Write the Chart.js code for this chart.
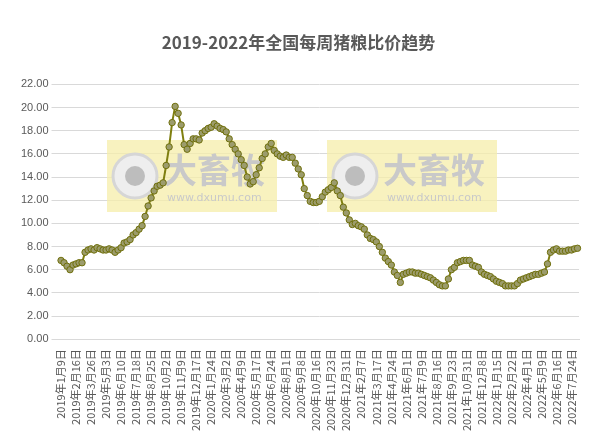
<!DOCTYPE html>
<html><head><meta charset="utf-8">
<script src="https://cdn.jsdelivr.net/npm/chart.js@4"></script>
<style>html,body{margin:0;padding:0;background:#fff}#w{width:601px;height:435px}</style>
</head><body><div id="w"><canvas id="c"></canvas></div>
<script>
const chartTitle = '2019-2022年全国每周猪粮比价趋势';
const tickLabels = ['2019年1月9日','2019年2月16日','2019年3月26日','2019年5月3日','2019年6月10日','2019年7月18日','2019年8月25日','2019年10月2日','2019年11月9日','2019年12月17日','2020年1月24日','2020年3月2日','2020年4月9日','2020年5月17日','2020年6月24日','2020年8月1日','2020年9月8日','2020年10月16日','2020年11月23日','2020年12月31日','2021年2月7日','2021年3月17日','2021年4月24日','2021年6月1日','2021年7月9日','2021年8月16日','2021年9月23日','2021年10月31日','2021年12月8日','2022年1月15日','2022年2月22日','2022年4月1日','2022年5月9日','2022年6月16日','2022年7月24日'];
const ratioValues = [
6.8,6.6,6.3,6.0,6.4, 6.5,6.6,6.6,7.5,7.7, 7.8,7.7,7.9,7.8,7.7, 7.7,7.8,7.7,7.5,7.7,
7.9,8.3,8.4,8.6,9.0, 9.2,9.5,9.8,10.6,11.5, 12.2,12.8,13.2,13.3,13.5, 15.0,16.6,18.7,20.1,19.5,
18.5,16.8,16.4,16.9,17.3, 17.3,17.2,17.8,18.0,18.2, 18.3,18.6,18.4,18.2,18.1, 17.9,17.3,16.8,16.4,16.0,
15.5,15.0,14.0,13.4,13.6, 14.2,14.8,15.6,16.0,16.6, 16.9,16.3,16.0,15.8,15.7, 15.9,15.7,15.7,15.2,14.7,
14.2,13.0,12.4,11.9,11.8, 11.8,11.9,12.3,12.7,12.9, 13.1,13.5,12.8,12.4,11.4, 10.9,10.3,9.9,10.0,9.8,
9.7,9.5,9.0,8.7,8.6, 8.4,8.0,7.5,7.0,6.7, 6.4,5.8,5.5,4.9,5.6, 5.7,5.8,5.8,5.7,5.7,
5.6,5.5,5.4,5.3,5.1, 4.9,4.7,4.6,4.6,5.2, 6.0,6.2,6.6,6.7,6.8, 6.8,6.8,6.4,6.3,6.2,
5.8,5.6,5.5,5.4,5.2, 5.0,4.9,4.8,4.6,4.6, 4.6,4.6,4.8,5.1,5.2, 5.3,5.4,5.5,5.6,5.6,
5.7,5.8,6.5,7.5,7.7, 7.8,7.6,7.6,7.6,7.7, 7.7,7.8,7.85];
const labelStep = 5;
const categories = ratioValues.map((v,i)=> i%labelStep===0 ? (tickLabels[i/labelStep]||'') : '');

const watermark = {
  id:'wm',
  beforeDatasetsDraw(ch){
    const c=ch.ctx; c.save();
    [[107,140],[327,140]].forEach(([x,y])=>{
      c.fillStyle='rgba(245,238,170,0.75)'; c.fillRect(x,y,170,72);
      c.beginPath(); c.arc(x+28,y+36,22,0,Math.PI*2); c.fillStyle='#eeeeee'; c.fill();
      c.lineWidth=3; c.strokeStyle='#d6d6d6'; c.stroke();
      c.beginPath(); c.arc(x+28,y+36,10,0,Math.PI*2); c.fillStyle='#bdbdbd'; c.fill();
      c.fillStyle='#c9c9c9'; c.font='bold 34px "Noto Sans CJK SC"'; c.textBaseline='middle';
      c.fillText('大畜牧',x+56,y+30);
      c.font='11px "DejaVu Sans"'; c.fillText('www.dxumu.com',x+60,y+58);
    });
    c.restore();
  }
};

new Chart(document.getElementById('c'),{
  type:'line',
  data:{labels:categories,datasets:[{data:ratioValues,borderColor:'#7f7f10',borderWidth:2,
    pointRadius:3.2,pointBackgroundColor:'#9c9c6c',pointBorderColor:'#70700c',pointBorderWidth:1,tension:0}]},
  options:{responsive:true,maintainAspectRatio:false,animation:false,
    layout:{padding:{left:18,right:22,top:6,bottom:2}},
    plugins:{legend:{display:false},tooltip:{enabled:false},
      title:{display:true,text:chartTitle,color:'#595959',font:{size:17,weight:'bold',family:'"Noto Sans CJK SC"'},padding:{top:26,bottom:32}}},
    scales:{
      x:{offset:true,grid:{display:false},border:{color:'#d9d9d9'},
        ticks:{autoSkip:false,maxRotation:90,minRotation:90,color:'#595959',font:{size:11,family:'"Noto Sans CJK SC"'},padding:2}},
      y:{min:0,max:22,grid:{color:'#d9d9d9'},border:{display:false},
        ticks:{stepSize:2,color:'#595959',font:{size:11,family:'"Liberation Sans"'},callback:v=>v.toFixed(2)}}
    }},
  plugins:[watermark]
});
</script></body></html>
